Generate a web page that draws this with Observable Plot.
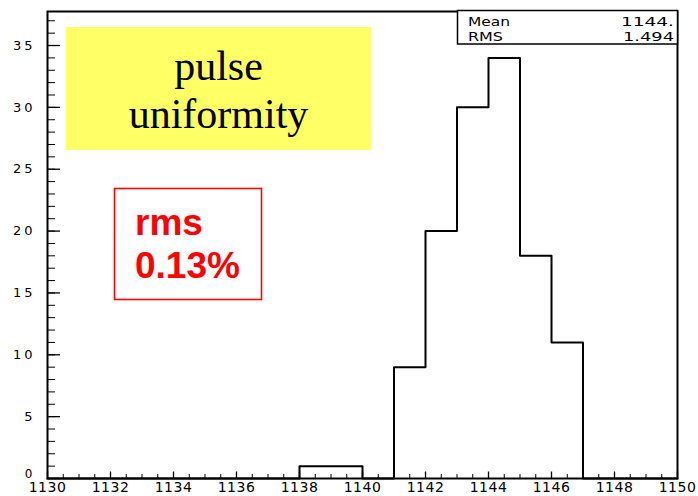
<!DOCTYPE html>
<html>
<head>
<meta charset="utf-8">
<script src="https://cdn.jsdelivr.net/npm/d3@7"></script>
<script src="https://cdn.jsdelivr.net/npm/@observablehq/plot@0.6"></script>
<style>
  html, body { margin: 0; padding: 0; background: #fff; }
  #chart svg { display: block; }
</style>
</head>
<body>
<div id="chart"></div>
<script>
// ---- data ----
const binStarts = [1130,1131,1132,1133,1134,1135,1136,1137,1138,1139,1140,1141,1142,1143,1144,1145,1146,1147,1148,1149];
const counts    = [   0,   0,   0,   0,   0,   0,   0,   0,   1,   1,   0,   9,  20,  30,  34,  18,  11,   0,   0,   0];
const lastEdge = 1150;

const xTickValues = [1130,1132,1134,1136,1138,1140,1142,1144,1146,1148,1150];
const xTickLabels = ["1130","1132","1134","1136","1138","1140","1142","1144","1146","1148","1150"];
const yTickValues = [0,5,10,15,20,25,30,35];
const yTickLabels = ["0","5","10","15","20","25","30","35"];

const statsLabels = ["Mean","RMS"];
const statsValues = ["1144.","1.494"];
const noteLines = ["pulse","uniformity"];
const rmsLines = ["rms","0.13%"];

// ---- layout ----
const W = 698, H = 496;
const mTop = 11, mRight = 21, mBottom = 18, mLeft = 47;
const plotW = W - mLeft - mRight, plotH = H - mTop - mBottom;

const pts = binStarts.map((x, i) => ({x, y: counts[i]}));
pts.push({x: lastEdge, y: 0});

const xMinor = d3.range(1130, 1150.001, 0.5);
const yMinor = d3.range(0, 38, 1);

const plot = Plot.plot({
  width: W, height: H,
  marginTop: mTop, marginRight: mRight, marginBottom: mBottom, marginLeft: mLeft,
  style: {fontFamily: "DejaVu Sans", fontSize: "13px", background: "#fff", color: "#000"},
  x: {domain: [1130, 1150]},
  y: {domain: [0, 37.75]},
  marks: [
    Plot.tickX(xMinor, {x: d => d, insetTop: plotH - 4, stroke: "#000", strokeWidth: 1}),
    Plot.tickX(xTickValues, {x: d => d, insetTop: plotH - 6.5, stroke: "#000", strokeWidth: 1.3}),
    Plot.tickY(yMinor, {y: d => d, insetRight: plotW - 8, stroke: "#000", strokeWidth: 1}),
    Plot.tickY(yTickValues, {y: d => d, insetRight: plotW - 13, stroke: "#000", strokeWidth: 1.3}),
    Plot.axisX({ticks: xTickValues, tickFormat: (d) => xTickLabels[xTickValues.indexOf(d)], tickSize: 0, tickPadding: 4, fontSize: 14, label: null}),
    Plot.axisY({ticks: yTickValues, tickFormat: (d) => yTickLabels[yTickValues.indexOf(d)], tickSize: 0, tickPadding: 12, fontSize: 13, label: null}),
    Plot.line(pts, {x: "x", y: "y", curve: "step-after", stroke: "#000", strokeWidth: 2}),
    Plot.frame({stroke: "#000", strokeWidth: 2})
  ]
});

document.getElementById("chart").appendChild(plot);

const svg = d3.select(plot);
svg.selectAll('g[aria-label="x-axis tick label"]').attr("letter-spacing", 0.5);
svg.selectAll('g[aria-label="y-axis tick label"]').attr("letter-spacing", 3)
  .selectAll("text").filter(function() { return d3.select(this).text() === "0"; })
  .attr("transform", function() { return (d3.select(this).attr("transform") || "") + " translate(0,-4)"; })
  .attr("font-size", 12);

// ---- stats box ----
const sb = svg.append("g").attr("text-anchor", "start");
sb.append("rect").attr("x", 457.5).attr("y", 10.5).attr("width", 220).attr("height", 33.5)
  .attr("fill", "#fff").attr("stroke", "#000").attr("stroke-width", 1.5);
const rowsY = [26, 41];
const labLen = [42, 35];
const valLen = [53, 51];
statsLabels.forEach((t, i) => {
  sb.append("text").attr("x", 468).attr("y", rowsY[i]).attr("text-anchor", "start").attr("font-family", "DejaVu Sans").attr("font-size", 12)
    .attr("textLength", labLen[i]).attr("lengthAdjust", "spacingAndGlyphs").text(t);
  sb.append("text").attr("x", 674).attr("y", rowsY[i]).attr("text-anchor", "end").attr("font-family", "DejaVu Sans").attr("font-size", 12)
    .attr("textLength", valLen[i]).attr("lengthAdjust", "spacingAndGlyphs").text(statsValues[i]);
});

// ---- yellow note ----
const yb = svg.append("g");
yb.append("rect").attr("x", 66).attr("y", 27).attr("width", 305).attr("height", 123).attr("fill", "#ffff66");
noteLines.forEach((t, i) => {
  yb.append("text").attr("x", 218.5).attr("y", [80, 128][i]).attr("text-anchor", "middle")
    .attr("font-family", "Liberation Serif, Times New Roman, serif").attr("font-size", 42).attr("fill", "#000").text(t);
});

// ---- red note ----
const rb = svg.append("g").attr("text-anchor", "start");
rb.append("rect").attr("x", 114.5).attr("y", 188.5).attr("width", 147).attr("height", 111)
  .attr("fill", "none").attr("stroke", "#ff0000").attr("stroke-width", 1.6);
rmsLines.forEach((t, i) => {
  rb.append("text").attr("x", 135).attr("y", [235, 278][i]).attr("text-anchor", "start")
    .attr("font-family", "Liberation Sans, Arial, sans-serif").attr("font-weight", "bold").attr("font-size", 37)
    .attr("fill", "#ff0000").text(t);
});
</script>
</body>
</html>
